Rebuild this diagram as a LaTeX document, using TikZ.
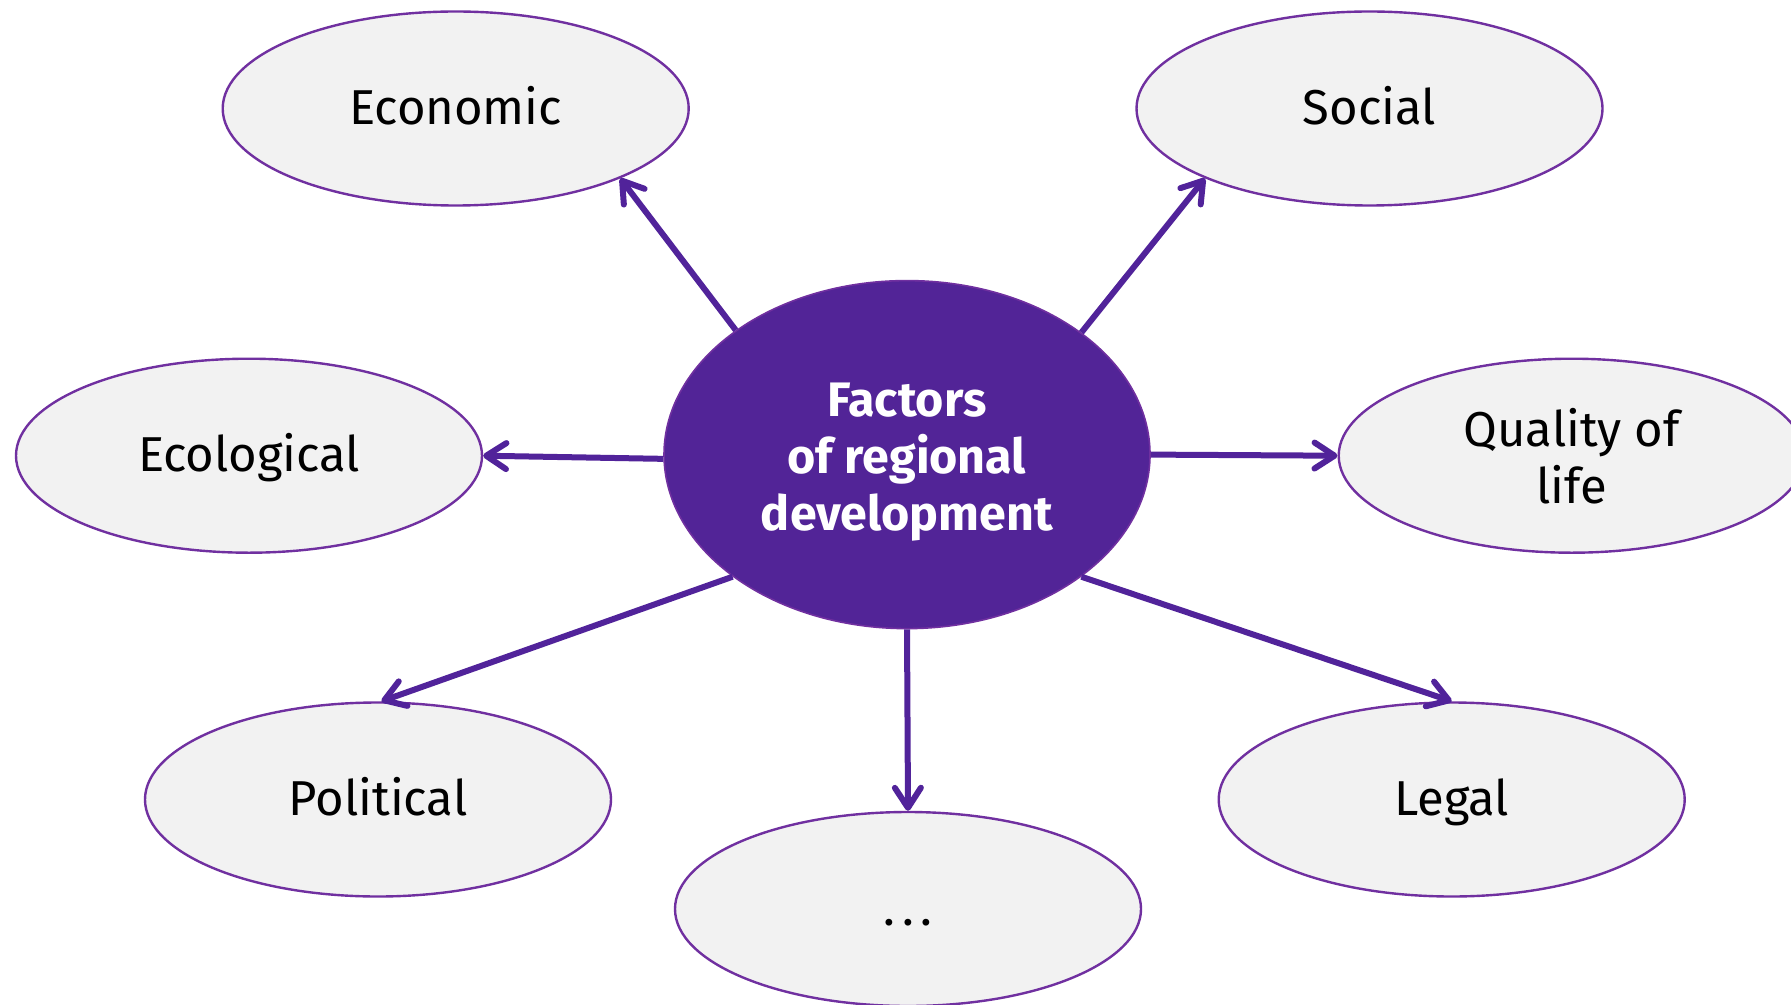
\documentclass[tikz,border=0pt]{standalone}
\usepackage{fontspec}
\setmainfont{Fira Sans}
\usetikzlibrary{shapes.geometric,arrows.meta}
\definecolor{arrowpurple}{HTML}{51239A}
\definecolor{edgepurple}{HTML}{7030A0}
\definecolor{centerfill}{HTML}{522497}
\definecolor{leaffill}{HTML}{F2F2F2}
\tikzset{
  leaf/.style={ellipse, draw=edgepurple, line width=1.2pt, fill=leaffill,
    minimum width=233pt, minimum height=97pt, inner sep=0pt, align=center,
    font=\fontsize{24.5}{28.5}\selectfont, text=black},
  oneline/.style={text height=20.5pt, text depth=4.5pt},
  hub/.style={ellipse, draw=edgepurple, line width=0.8pt, fill=centerfill,
    minimum width=243pt, minimum height=174pt, inner sep=0pt, align=center,
    font=\fontsize{24.2}{28.5}\selectfont\bfseries, text=white},
  link/.style={draw=arrowpurple, line width=3pt,
    -{Straight Barb[length=10pt,width=13pt,round]}}
}
\begin{document}
\begin{tikzpicture}[x=0.5pt,y=-0.5pt]
\useasboundingbox (0,0) rectangle (1791,1005);
\clip (0,0) rectangle (1791,1005);
\node[hub] (c) at (907,454.6) {\rule{0pt}{24pt}Factors\\of regional\\development};
\node[leaf,oneline] (eco) at (455.7,108.5) {Economic};
\node[leaf,oneline] (soc) at (1369.5,108.5) {Social};
\node[leaf,oneline] (ecl) at (249,455.7) {Ecological};
\node[leaf] (qol) at (1571.7,455.7) {Quality of\\life};
\node[leaf,oneline] (pol) at (378,799.5) {Political};
\node[leaf,oneline] (dots) at (908,909) {.\kern3.5pt.\kern3.5pt.};
\node[leaf,oneline] (leg) at (1451.7,799.5) {Legal};
\draw[link] (c.144.4) -- (eco.-23);
\draw[link] (c.35.6) -- (soc.203);
\draw[link] (c.181.6) -- (ecl.0);
\draw[link] (c.-0.3) -- (qol.180);
\draw[link] (c.215.6) -- (pol.88);
\draw[link] (c.270) -- (dots.90);
\draw[link] (c.-35.6) -- (leg.90.5);
\end{tikzpicture}
\end{document}
